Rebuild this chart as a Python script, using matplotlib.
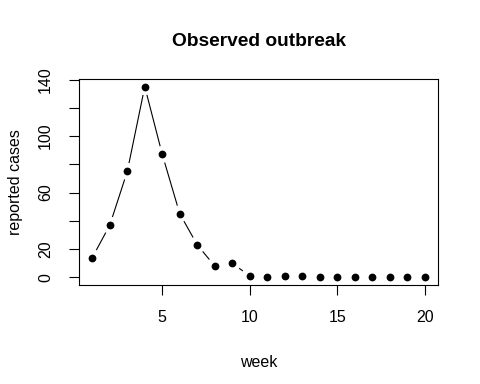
import numpy as np
import matplotlib
matplotlib.use("Agg")
import matplotlib.pyplot as plt

weeks = list(range(1, 21))
cases = [14, 37, 75, 135, 87, 45, 23, 8, 10, 1, 0, 1, 1, 0, 0, 0, 0, 0, 0, 0]
x_ticks = [5, 10, 15, 20]
y_ticks = [0, 20, 40, 60, 80, 100, 120, 140]
y_tick_labels = ["0", "20", "", "60", "", "100", "", "140"]

plt.rcParams['font.family'] = ['Liberation Sans', 'DejaVu Sans']

W, H = 480, 384
fig = plt.figure(figsize=(W / 100, H / 100), dpi=100)
L, R, T, B = 79, 438, 79, 285
ax = fig.add_axes([L / W, 1 - B / H, (R - L) / W, (B - T) / H])

x = np.array(weeks, dtype=float)
y = np.array(cases, dtype=float)
xr = x.max() - x.min()
yr = y.max() - y.min()
ax.set_xlim(x.min() - 0.04 * xr, x.max() + 0.04 * xr)
ax.set_ylim(y.min() - 0.04 * yr, y.max() + 0.04 * yr)

# type="b": segments with gaps around points
pts = ax.transData.transform(np.column_stack([x, y]))
inv = ax.transData.inverted()
gap = 8.5
for i in range(len(pts) - 1):
    p0, p1 = pts[i], pts[i + 1]
    d = p1 - p0
    ln = np.hypot(*d)
    if ln <= 2 * gap + 2.0:
        continue
    u = d / ln
    a = inv.transform(p0 + u * gap)
    b = inv.transform(p1 - u * gap)
    ax.plot([a[0], b[0]], [a[1], b[1]], color='black', lw=0.8, solid_capstyle='butt')

ax.plot(x, y, 'o', color='black', markersize=5.6, markeredgewidth=0, linestyle='none')

for s in ax.spines.values():
    s.set_linewidth(0.8)
    s.set_color('black')

ax.set_xticks(x_ticks)
ax.set_xticklabels([str(t) for t in x_ticks])
ax.set_yticks(y_ticks)
ax.set_yticklabels(y_tick_labels)
ax.tick_params(axis='both', length=7.2, width=0.8, labelsize=11.5, color='black')
ax.tick_params(axis='x', pad=10.8)
ax.tick_params(axis='y', pad=11.5)
for lbl in ax.get_yticklabels():
    lbl.set_rotation(90)
    lbl.set_va('center')

fig.text((L + R) / 2 / W, 1 - 46.5 / H, "Observed outbreak", ha='center', va='baseline',
         fontsize=13.8, fontweight='bold')
fig.text((L + R) / 2 / W, 1 - 367 / H, "week", ha='center', va='baseline', fontsize=11.5)
fig.text(16 / W, 1 - (T + B) / 2 / H, "reported cases", ha='center', va='center',
         rotation=90, fontsize=11.5)

fig.savefig("out.png", dpi=100)
